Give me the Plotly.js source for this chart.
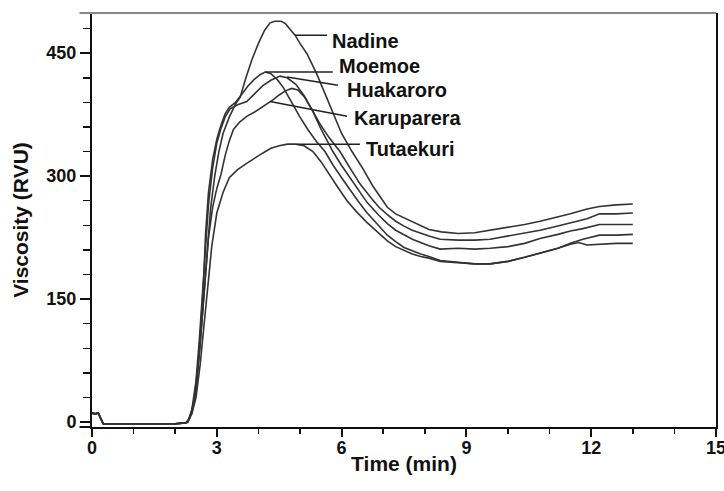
<!DOCTYPE html>
<html>
<head>
<meta charset="utf-8">
<script src="https://cdn.plot.ly/plotly-3.0.1.min.js"></script>
<style>html,body{margin:0;padding:0;background:#fff;}#chart{width:724px;height:491px;}</style>
</head>
<body>
<div id="chart"></div>
<script>
// ---- Data ----
const seriesNames = ["Nadine", "Moemoe", "Huakaroro", "Karuparera", "Tutaekuri"];

const nadineX = [0,0.08,0.15,0.2,0.27,0.5,1.0,1.5,2.0,2.25,2.3,2.4,2.5,2.6,2.7,2.78,2.85,2.95,3.05,3.15,3.3,3.45,3.56,3.7,3.85,4.0,4.15,4.28,4.4,4.55,4.65,4.78,4.88,5.0,5.17,5.4,5.6,5.8,6.0,6.25,6.5,6.75,6.99,7.1,7.3,7.5,7.7,8.1,8.4,8.8,9.2,9.57,10.0,10.4,10.77,11.1,11.5,11.9,12.2,12.6,13.0];
const nadineY = [11,10,11,6,-2,-2,-2,-2,-2,-1,0,12,40,95,160,215,260,300,330,352,372,388,396,420,443,462,478,487,489,489,486,478,472,462,449,425,400,375,352,330,310,288,270,262,254,249,245,235,232,230,231,234,237,241,245,249,254,260,263,265,266];

const moemoeX = [0,0.08,0.15,0.2,0.27,0.5,1.0,1.5,2.0,2.25,2.35,2.45,2.55,2.62,2.68,2.73,2.8,2.9,3.0,3.1,3.2,3.3,3.45,3.6,3.75,3.9,4.05,4.16,4.3,4.45,4.6,4.8,5.0,5.2,5.4,5.6,5.8,6.0,6.2,6.39,6.6,6.9,7.1,7.3,7.5,7.7,7.9,8.1,8.37,8.8,9.2,9.57,10.0,10.4,10.77,11.2,11.5,11.8,12.2,12.6,13.0];
const moemoeY = [11,10,11,6,-2,-2,-2,-2,-2,-1,5,25,70,120,170,230,280,320,345,362,376,384,390,400,410,418,424,427,425,418,408,390,372,356,342,330,313,298,283,270,256,239,228,220,213,209,205,202,197,195,193,193,196,201,206,212,218,223,228,228,229];

const huakaroroX = [0,0.08,0.15,0.2,0.27,0.5,1.0,1.5,2.0,2.25,2.3,2.4,2.5,2.58,2.65,2.72,2.8,2.9,3.0,3.1,3.2,3.32,3.5,3.72,3.9,4.1,4.3,4.52,4.69,4.9,5.1,5.3,5.5,5.7,5.96,6.2,6.45,6.73,6.9,7.1,7.3,7.5,7.7,8.1,8.37,8.8,9.2,9.57,10.0,10.4,10.77,11.1,11.5,11.9,12.2,12.6,13.0];
const huakaroroY = [11,10,11,6,-2,-2,-2,-2,-2,-1,0,15,50,100,150,210,265,310,340,358,372,382,387,391,400,410,417,422,420,412,398,380,362,347,330,310,290,272,262,253,245,239,234,227,223,222,222,223,227,230,234,238,243,248,254,254,255];

const karupareraX = [0,0.08,0.15,0.2,0.27,0.5,1.0,1.5,2.0,2.25,2.3,2.4,2.5,2.6,2.7,2.8,2.9,3.0,3.1,3.2,3.3,3.4,3.55,3.72,3.9,4.05,4.2,4.35,4.5,4.65,4.8,4.95,5.1,5.3,5.5,5.79,6.0,6.2,6.4,6.61,6.9,7.1,7.3,7.5,7.7,8.1,8.37,8.8,9.2,9.57,10.0,10.4,10.77,11.2,11.5,11.8,12.2,12.6,13.0];
const karupareraY = [11,10,11,6,-2,-2,-2,-2,-2,-1,0,12,40,95,160,225,262,285,302,325,343,357,366,373,378,383,387,393,399,404,407,405,397,380,358,330,313,298,283,268,252,242,234,228,223,215,211,212,211,212,214,218,224,229,233,236,241,241,241];

const tutaekuriX = [0,0.08,0.15,0.2,0.27,0.5,1.0,1.5,2.0,2.25,2.3,2.4,2.5,2.6,2.7,2.8,2.88,3.0,3.15,3.3,3.5,3.7,3.9,4.1,4.3,4.5,4.7,4.9,5.1,5.31,5.5,5.7,5.9,6.13,6.35,6.6,6.9,7.1,7.3,7.5,7.7,7.9,8.1,8.37,8.8,9.2,9.57,10.0,10.4,10.77,11.2,11.5,11.7,11.9,12.2,12.6,13.0];
const tutaekuriY = [11,10,11,6,-2,-2,-2,-2,-2,-1,0,10,30,70,120,175,215,255,280,298,308,315,322,328,334,337,339,339,337,330,318,302,287,270,257,244,230,221,214,209,205,202,200,196,194,193,193,196,201,206,212,217,219,216,217,218,218];

// Label leader lines: point on curve -> end of leader; text placed separately
const labelCurveX = [4.88, 4.16, 4.69, 4.28, 4.93];
const labelCurveY = [472, 427, 421, 391, 339];
const leaderEndX  = [5.65, 5.79, 5.91, 6.13, 6.44];
const leaderEndY  = [472, 427, 411, 373, 339];
const labelTextX  = [5.72, 5.9, 6.07, 6.26, 6.55];
const labelTextY  = [465, 434, 405, 371, 333];

const xTickVals = [0, 3, 6, 9, 12, 15];
const yTickVals = [0, 150, 300, 450];

// ---- Chart ----
const FONT = "Liberation Sans, Arial, sans-serif";
const lineColor = "#333";
const xs = [nadineX, moemoeX, huakaroroX, karupareraX, tutaekuriX];
const ys = [nadineY, moemoeY, huakaroroY, karupareraY, tutaekuriY];

const traces = seriesNames.map((n, i) => ({
  type: "scatter", mode: "lines", name: n,
  x: xs[i], y: ys[i],
  line: {color: lineColor, width: 1.6},
  showlegend: false, hoverinfo: "x+y+name"
}));

const leaderX = [], leaderY = [];
seriesNames.forEach((n, i) => {
  leaderX.push(labelCurveX[i], leaderEndX[i], null);
  leaderY.push(labelCurveY[i], leaderEndY[i], null);
});
traces.push({
  type: "scatter", mode: "lines", name: "labels",
  x: leaderX, y: leaderY, connectgaps: false,
  line: {color: "#222", width: 1.5}, showlegend: false, hoverinfo: "skip"
});

const annotations = seriesNames.map((n, i) => ({
  x: labelTextX[i], y: labelTextY[i], xref: "x", yref: "y",
  text: n, showarrow: false,
  xanchor: "left", yanchor: "middle",
  font: {family: FONT, size: 20, color: "#111", weight: "bold"}
}));

const layout = {
  width: 724, height: 491,
  margin: {l: 92, r: 8, t: 13, b: 64},
  paper_bgcolor: "#fff", plot_bgcolor: "#fff",
  font: {family: FONT, color: "#111"},
  xaxis: {
    range: [0, 15], tickvals: xTickVals, ticktext: xTickVals.map(String),
    showline: true, linecolor: "#111", linewidth: 2, mirror: false,
    ticks: "outside", ticklen: 8, tickwidth: 2, tickcolor: "#111",
    ticklabeloverflow: "allow", ticklabelstandoff: -5,
    minor: {dtick: 1, tick0: 0, ticks: "outside", ticklen: 5, tickwidth: 1.5, tickcolor: "#111"},
    showgrid: false, zeroline: false,
    tickfont: {family: FONT, size: 18, weight: "bold", color: "#111"},
    title: {text: "Time (min)", standoff: 0, font: {family: FONT, size: 21, weight: "bold", color: "#111"}}
  },
  yaxis: {
    range: [-6, 499], tickvals: yTickVals, ticktext: yTickVals.map(String),
    showline: true, linecolor: "#111", linewidth: 2, mirror: true,
    ticks: "outside", ticklen: 10, tickwidth: 2, tickcolor: "#111",
    minor: {dtick: 30, tick0: 0, ticks: "outside", ticklen: 7, tickwidth: 1.5, tickcolor: "#111"},
    showgrid: false, zeroline: false,
    tickfont: {family: FONT, size: 18, weight: "bold", color: "#111"},
    title: {text: "Viscosity (RVU)", standoff: 12, font: {family: FONT, size: 21, weight: "bold", color: "#111"}}
  },
  shapes: [
    {type: "line", xref: "paper", yref: "paper", x0: -0.02, x1: 1, y0: 1, y1: 1, line: {color: "#888", width: 2}},
    {type: "line", xref: "paper", yref: "paper", x0: -0.02, x1: 0, y0: 0, y1: 0, line: {color: "#111", width: 2}}
  ],
  annotations: annotations
};

Plotly.newPlot("chart", traces, layout, {displayModeBar: false, staticPlot: true});
</script>
</body>
</html>
